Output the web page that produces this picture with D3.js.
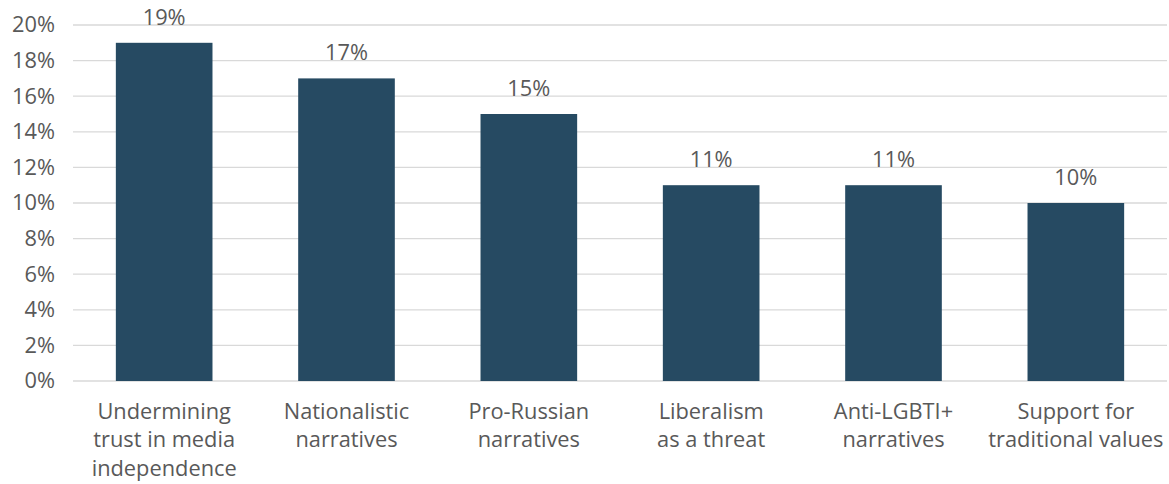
<!DOCTYPE html>
<html><head><meta charset="utf-8">
<script src="https://cdn.jsdelivr.net/npm/d3@7"></script>
<style>body{margin:0;background:#fff}svg{display:block}</style>
</head><body>
<svg id="c" width="1169" height="484"></svg>
<script>
const categories = [
  ["Undermining","trust in media","independence"],
  ["Nationalistic","narratives"],
  ["Pro-Russian","narratives"],
  ["Liberalism","as a threat"],
  ["Anti-LGBTI+","narratives"],
  ["Support for","traditional values"]
];
const values = [19, 17, 15, 11, 11, 10];
const yTicks = [0,2,4,6,8,10,12,14,16,18,20];

(function(){
const font = "'Open Sans', Lato, sans-serif";
const textColor = "#595959";
const fs = 21.8;
const svg = d3.select("#c");
const mLeft = 73, mRight = 1167, mTop = 25, mBottom = 381;
const x = d3.scaleBand().domain(d3.range(values.length)).range([mLeft, mRight]).paddingInner(0.47).paddingOuter(0.235);
const y = d3.scaleLinear().domain([0,20]).range([mBottom, mTop]);

svg.append("g").selectAll("line").data(yTicks).join("line")
  .attr("x1", mLeft).attr("x2", mRight)
  .attr("y1", d => y(d)).attr("y2", d => y(d))
  .attr("stroke", "#d9d9d9").attr("stroke-width", 1.3);

const yAxis = d3.axisLeft(y).tickValues(yTicks).tickFormat(d => d + "%").tickSize(0).tickPadding(18);
const gy = svg.append("g").attr("transform", `translate(${mLeft},0)`).call(yAxis);
gy.select(".domain").remove();
gy.selectAll("text").attr("font-family", font).attr("font-size", fs).attr("fill", textColor);

svg.append("g").selectAll("rect").data(values).join("rect")
  .attr("x", (d,i) => x(i)).attr("width", x.bandwidth())
  .attr("y", d => y(d)).attr("height", d => y(0) - y(d))
  .attr("fill", "#264a62");

svg.append("g").selectAll("text").data(values).join("text")
  .attr("x", (d,i) => x(i) + x.bandwidth()/2)
  .attr("y", d => y(d) - 18)
  .attr("text-anchor", "middle")
  .attr("font-family", font).attr("font-size", fs).attr("fill", textColor)
  .text(d => d + "%");

const xAxis = d3.axisBottom(x).tickSize(0).tickFormat("");
const gx = svg.append("g").attr("transform", `translate(0,${mBottom})`).call(xAxis);
gx.select(".domain").remove();
gx.selectAll(".tick").each(function(i){
  const t = d3.select(this).append("text")
    .attr("text-anchor", "middle").attr("font-family", font).attr("font-size", fs).attr("fill", textColor);
  categories[i].forEach((line, k) => {
    t.append("tspan").attr("x", 0).attr("y", 38 + k*28.3).text(line);
  });
});
})();
</script>
</body></html>
